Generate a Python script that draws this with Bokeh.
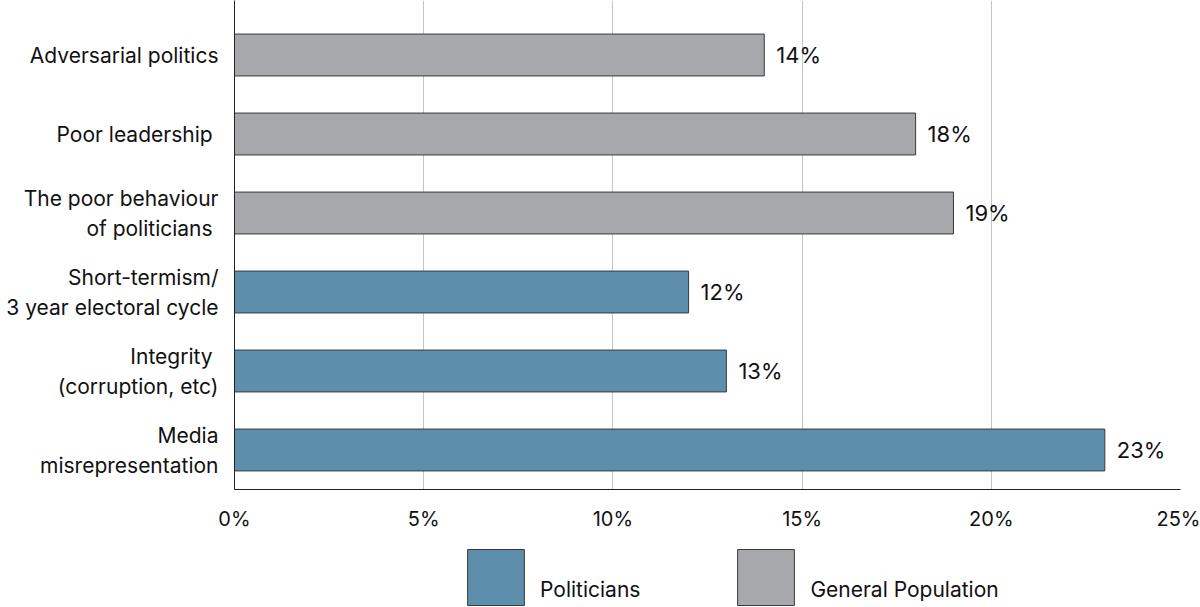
from bokeh.plotting import figure
from bokeh.layouts import column
from bokeh.models import (ColumnDataSource, Range1d, FixedTicker, PrintfTickFormatter,
                          Legend, LegendItem)
from bokeh.core.properties import value
from bokeh.embed import file_html
from bokeh.resources import INLINE

# ---- data (bottom to top) ----
categories = [
    "Media\nmisrepresentation",
    "Integrity \n(corruption, etc)",
    "Short-termism/\n3 year electoral cycle",
    "The poor behaviour\nof politicians ",
    "Poor leadership ",
    "Adversarial politics",
]
values = [23, 13, 12, 19, 18, 14]
groups = ["Politicians", "Politicians", "Politicians",
          "General Population", "General Population", "General Population"]
legend_groups = ["Politicians", "General Population"]
x_ticks = [0, 5, 10, 15, 20, 25]

colors_map = {"Politicians": "#5d8fad", "General Population": "#a7a8ab"}
OUTLINE = "#3a3a3a"

positions = list(range(len(categories)))
source = ColumnDataSource(dict(
    y=positions,
    v=values,
    group=groups,
    color=[colors_map[g] for g in groups],
    label=[f"{v}%" for v in values],
))

FONT = "Inter"
TXT = "#111111"

# ---------------- main chart ----------------
p = figure(width=1200, height=534, output_backend="svg", toolbar_location=None,
           x_range=Range1d(0, 25), y_range=Range1d(-0.5, 5.69),
           min_border_left=234, min_border_right=20, min_border_top=0,
           min_border_bottom=45)
p.outline_line_color = None

r = p.hbar(y="y", right="v", left=0, height=0.53, source=source,
           fill_color="color", line_color=OUTLINE, line_width=1)

p.text(x="v", y="y", text="label", source=source, x_offset=12,
       text_baseline="middle", text_align="left", text_font=value(FONT),
       text_font_size="22px", text_color=TXT)

# x axis
p.xaxis.ticker = FixedTicker(ticks=x_ticks)
p.xaxis.formatter = PrintfTickFormatter(format="%d%%")
p.xaxis.major_tick_line_color = None
p.xaxis.major_tick_out = 0
p.xaxis.major_tick_in = 0
p.xaxis.minor_tick_line_color = None
p.xaxis.axis_line_color = "#222222"
p.xaxis.major_label_standoff = 17
p.xaxis.major_label_text_font = FONT
p.xaxis.major_label_text_font_size = "20px"
p.xaxis.major_label_text_color = TXT

# y axis
p.yaxis.ticker = FixedTicker(ticks=positions)
p.yaxis.major_label_overrides = {i: c for i, c in enumerate(categories)}
p.yaxis.major_tick_line_color = None
p.yaxis.major_tick_out = 0
p.yaxis.major_tick_in = 0
p.yaxis.minor_tick_line_color = None
p.yaxis.axis_line_color = "#222222"
p.yaxis.major_label_standoff = 16
p.yaxis.major_label_text_font = FONT
p.yaxis.major_label_text_font_size = "21px"
p.yaxis.major_label_text_line_height = 1.2
p.yaxis.major_label_text_color = TXT

p.xgrid.ticker = FixedTicker(ticks=x_ticks)
p.xgrid.grid_line_color = "#c4c4c4"
p.ygrid.grid_line_color = None

# ---------------- legend strip ----------------
lg = figure(width=1200, height=73, output_backend="svg", toolbar_location=None,
            x_axis_location=None, y_axis_location=None,
            min_border_left=234, min_border_right=20, min_border_top=0,
            min_border_bottom=0)
lg.outline_line_color = None
lg.grid.visible = False

rr = lg.hbar(y="y", right="v", left=0, height=0.53, source=source,
             fill_color="color", line_color=OUTLINE, line_width=1, visible=False)
items = [LegendItem(label="\n" + g, renderers=[rr], index=groups.index(g))
         for g in legend_groups]

legend = Legend(items=items, orientation="horizontal", location=(226, -5),
                glyph_width=71, glyph_height=70,
                label_standoff=9, spacing=90, padding=0, margin=0,
                border_line_color=None, background_fill_alpha=0,
                inactive_fill_alpha=0,
                label_text_font=FONT, label_text_font_size="21px",
                label_text_line_height=1.2,
                label_text_color=TXT, label_text_baseline="middle")
lg.add_layout(legend, "center")

layout = column(p, lg, spacing=0)
open("out.html", "w").write(file_html(layout, INLINE))
